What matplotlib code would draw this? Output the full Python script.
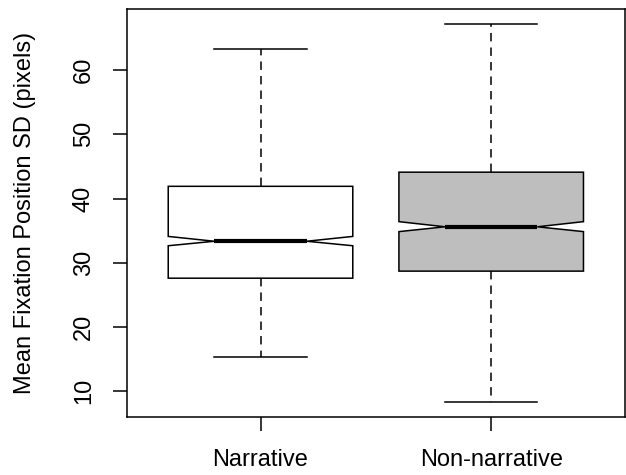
import matplotlib
matplotlib.use("Agg")
import matplotlib.pyplot as plt

# values (R-style notched boxplot)
groups = ["Narrative", "Non-narrative"]
medians = [33.35, 35.6]
q1s = [27.6, 28.7]
q3s = [41.9, 44.1]
whislo = [15.3, 8.3]
whishi = [63.3, 67.1]
ci_lo = [32.65, 34.85]
ci_hi = [34.1, 36.4]
fills = ["white", "#BEBEBE"]

stats = []
for i in range(len(groups)):
    stats.append(dict(label=groups[i], med=medians[i], q1=q1s[i], q3=q3s[i],
                      whislo=whislo[i], whishi=whishi[i],
                      cilo=ci_lo[i], cihi=ci_hi[i], fliers=[]))

plt.rcParams['font.family'] = ['Liberation Sans', 'DejaVu Sans']
fig = plt.figure(figsize=(6.26, 4.75), dpi=100)
ax = fig.add_axes([0.2024, 0.1215, 0.796, 0.8589])

bp = ax.bxp(stats, positions=[1, 2], widths=0.8, shownotches=True, patch_artist=True,
            showfliers=False,
            boxprops=dict(linewidth=1.1, edgecolor="black"),
            whiskerprops=dict(linewidth=1.1, linestyle=(0, (5.5, 4))),
            capprops=dict(linewidth=1.1),
            medianprops=dict(linewidth=3.0, color="black", solid_capstyle="butt"))
for patch, c in zip(bp["boxes"], fills):
    patch.set_facecolor(c)

ax.set_xlim(0.42, 2.58)
ax.set_ylim(5.95, 69.45)
ax.set_xticks([1, 2])
ax.set_xticklabels(groups, fontsize=17)
ax.set_yticks([10, 20, 30, 40, 50, 60])
ax.set_yticklabels(["10", "20", "30", "40", "50", "60"], fontsize=17,
                   rotation=90, va="center")
ax.tick_params(axis="both", length=10, width=1.1, direction="out")
ax.tick_params(axis="x", pad=13)
ax.tick_params(axis="y", pad=13)
for s in ax.spines.values():
    s.set_linewidth(1.1)
ax.set_ylabel("Mean Fixation Position SD (pixels)", fontsize=17, va="center")
ax.yaxis.set_label_coords(-0.204, 0.5)

fig.savefig("out.png", dpi=100)
